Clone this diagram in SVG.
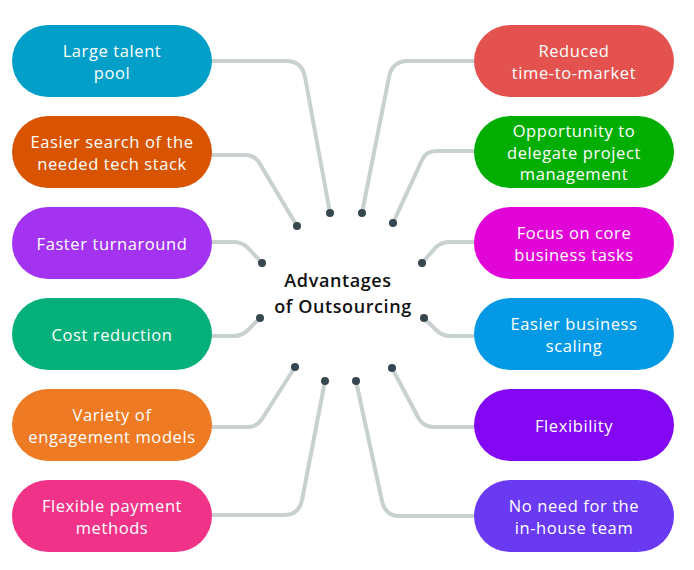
<svg xmlns="http://www.w3.org/2000/svg" width="694" height="570" viewBox="0 0 694 570">
  <style>
    .link { fill: none; stroke: #c8d0d0; stroke-width: 4; stroke-linecap: round; stroke-linejoin: round; }
    .dot { fill: #37474f; }
    .pill text { fill: #ffffff; font-family: "Open Sans", "Noto Sans", sans-serif; font-size: 16.5px; letter-spacing: 0.6px; text-anchor: middle; }
    .title { fill: #111111; font-family: "Open Sans", "Noto Sans", sans-serif; font-size: 18px; font-weight: 600; letter-spacing: 0.6px; text-anchor: middle; }
  </style>
  <rect width="694" height="570" fill="#ffffff"/>

  <!-- connectors: elbow lines from each pill to a dot around the centre -->
  <g id="connectors">
    <path class="link" d="M212,61 H286 Q302,61 305,77 L330,213"/>
    <path class="link" d="M212,155 H245 Q255,155 260,164 L297,226"/>
    <path class="link" d="M212,242 H234 Q242,242 248,248 L262,263"/>
    <path class="link" d="M212,336 H234 Q242,336 248,330 L260,318"/>
    <path class="link" d="M212,427 H247 Q257,427 262,419 L295,367"/>
    <path class="link" d="M212,515 H284 Q299,515 302,500 L325,381"/>
    <path class="link" d="M474,61 H408 Q392,61 389,77 L362,213"/>
    <path class="link" d="M474,151 H436 Q426,151 422,160 L393,223"/>
    <path class="link" d="M474,242 H450 Q442,242 436,247 L422,263"/>
    <path class="link" d="M474,336 H450 Q442,336 436,330 L424,318"/>
    <path class="link" d="M474,427 H434 Q424,427 419,419 L392,368"/>
    <path class="link" d="M474,516 H400 Q385,516 382,501 L356,381"/>
    <circle class="dot" cx="330" cy="213" r="4"/>
    <circle class="dot" cx="297" cy="226" r="4"/>
    <circle class="dot" cx="262" cy="263" r="4"/>
    <circle class="dot" cx="260" cy="318" r="4"/>
    <circle class="dot" cx="295" cy="367" r="4"/>
    <circle class="dot" cx="325" cy="381" r="4"/>
    <circle class="dot" cx="362" cy="213" r="4"/>
    <circle class="dot" cx="393" cy="223" r="4"/>
    <circle class="dot" cx="422" cy="263" r="4"/>
    <circle class="dot" cx="424" cy="318" r="4"/>
    <circle class="dot" cx="392" cy="368" r="4"/>
    <circle class="dot" cx="356" cy="381" r="4"/>
  </g>

  <!-- centre label -->
  <g id="center">
    <text class="title" x="338" y="287">Advantages</text>
    <text class="title" x="343" y="313">of Outsourcing</text>
  </g>

  <!-- left column -->
  <g id="large-talent-pool" class="pill">
    <rect x="12" y="25" width="200" height="72" rx="36" fill="#02a0c8"/>
    <text x="112" y="57">Large talent</text>
    <text x="112" y="79">pool</text>
  </g>
  <g id="easier-search" class="pill">
    <rect x="12" y="116" width="200" height="72" rx="36" fill="#d95400"/>
    <text x="112" y="148">Easier search of the</text>
    <text x="112" y="170">needed tech stack</text>
  </g>
  <g id="faster-turnaround" class="pill">
    <rect x="12" y="207" width="200" height="72" rx="36" fill="#a333f0"/>
    <text x="112" y="250">Faster turnaround</text>
  </g>
  <g id="cost-reduction" class="pill">
    <rect x="12" y="298" width="200" height="72" rx="36" fill="#05b07b"/>
    <text x="112" y="341">Cost reduction</text>
  </g>
  <g id="engagement-models" class="pill">
    <rect x="12" y="389" width="200" height="72" rx="36" fill="#ee7a24"/>
    <text x="112" y="421">Variety of</text>
    <text x="112" y="443">engagement models</text>
  </g>
  <g id="payment-methods" class="pill">
    <rect x="12" y="480" width="200" height="72" rx="36" fill="#f03389"/>
    <text x="112" y="512">Flexible payment</text>
    <text x="112" y="534">methods</text>
  </g>

  <!-- right column -->
  <g id="time-to-market" class="pill">
    <rect x="474" y="25" width="200" height="72" rx="36" fill="#e3524e"/>
    <text x="574" y="57">Reduced</text>
    <text x="574" y="79">time-to-market</text>
  </g>
  <g id="project-management" class="pill">
    <rect x="474" y="116" width="200" height="72" rx="36" fill="#03ae03"/>
    <text x="574" y="137">Opportunity to</text>
    <text x="574" y="158.5">delegate project</text>
    <text x="574" y="180">management</text>
  </g>
  <g id="core-tasks" class="pill">
    <rect x="474" y="207" width="200" height="72" rx="36" fill="#e205d8"/>
    <text x="574" y="239">Focus on core</text>
    <text x="574" y="261">business tasks</text>
  </g>
  <g id="business-scaling" class="pill">
    <rect x="474" y="298" width="200" height="72" rx="36" fill="#0399e5"/>
    <text x="574" y="330">Easier business</text>
    <text x="574" y="352">scaling</text>
  </g>
  <g id="flexibility" class="pill">
    <rect x="474" y="389" width="200" height="72" rx="36" fill="#8307f2"/>
    <text x="574" y="432">Flexibility</text>
  </g>
  <g id="in-house-team" class="pill">
    <rect x="474" y="480" width="200" height="72" rx="36" fill="#6a3af3"/>
    <text x="574" y="512">No need for the</text>
    <text x="574" y="534">in-house team</text>
  </g>
</svg>
